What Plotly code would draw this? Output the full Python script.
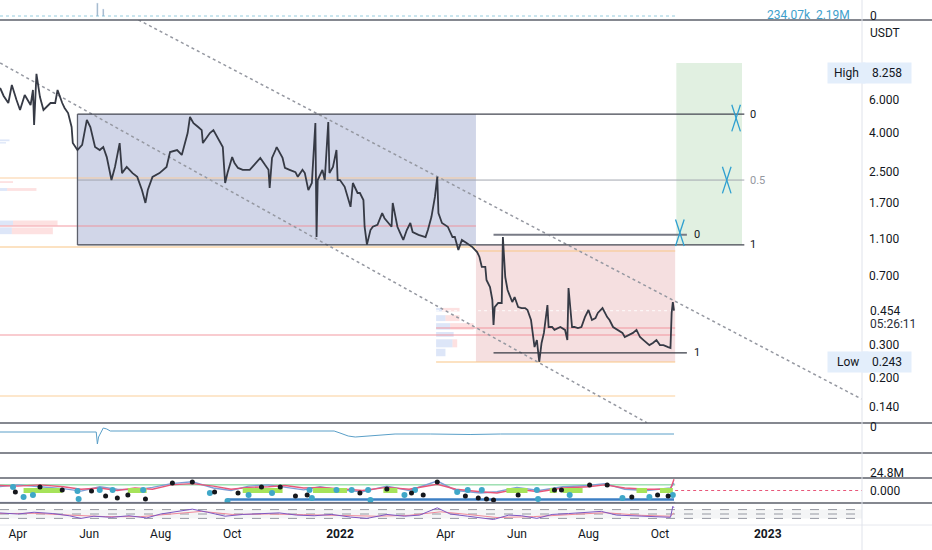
import numpy as np
import plotly.graph_objects as go

# ---------------- data ----------------
price_dates = [
 "2021-03-17","2021-03-20","2021-03-24","2021-03-27","2021-03-31","2021-04-03","2021-04-07","2021-04-12","2021-04-14","2021-04-15",
 "2021-04-17","2021-04-20","2021-04-23","2021-04-29","2021-05-03","2021-05-05","2021-05-09","2021-05-11","2021-05-14","2021-05-17",
 "2021-05-18","2021-05-22","2021-05-26","2021-05-30","2021-06-02","2021-06-06","2021-06-10","2021-06-13","2021-06-16","2021-06-20",
 "2021-06-23","2021-06-27","2021-06-29","2021-07-03","2021-07-08","2021-07-12","2021-07-16","2021-07-19","2021-07-21","2021-07-25",
 "2021-07-31","2021-08-06","2021-08-09","2021-08-15","2021-08-19","2021-08-22","2021-08-24","2021-08-26","2021-08-29","2021-09-02",
 "2021-09-05","2021-09-06","2021-09-10","2021-09-12","2021-09-15","2021-09-18","2021-09-21","2021-09-23","2021-09-25","2021-09-27",
 "2021-10-01","2021-10-03","2021-10-06","2021-10-10","2021-10-16","2021-10-20","2021-10-25","2021-10-29","2021-11-01","2021-11-02",
 "2021-11-04","2021-11-07","2021-11-08","2021-11-13","2021-11-15","2021-11-19","2021-11-24","2021-11-26","2021-11-30","2021-12-02",
 "2021-12-05","2021-12-08","2021-12-11","2021-12-12","2021-12-13","2021-12-17","2021-12-19","2021-12-22","2021-12-23","2021-12-26",
 "2021-12-29","2021-12-30","2022-01-01","2022-01-05","2022-01-08","2022-01-10","2022-01-12","2022-01-16","2022-01-18","2022-01-21",
 "2022-01-22","2022-01-24","2022-01-27","2022-01-29","2022-02-02","2022-02-06","2022-02-08","2022-02-11","2022-02-14","2022-02-15",
 "2022-02-19","2022-02-21","2022-02-24","2022-02-27","2022-03-02","2022-03-04","2022-03-09","2022-03-15","2022-03-17","2022-03-20",
 "2022-03-23","2022-03-25","2022-03-26","2022-03-29","2022-04-01","2022-04-03","2022-04-07","2022-04-09","2022-04-12","2022-04-15",
 "2022-04-19","2022-04-24","2022-04-28","2022-04-30","2022-05-02","2022-05-05","2022-05-06","2022-05-09","2022-05-11","2022-05-12",
 "2022-05-13","2022-05-16","2022-05-19","2022-05-20","2022-05-22","2022-05-24","2022-05-28","2022-05-30","2022-06-02","2022-06-05",
 "2022-06-08","2022-06-10","2022-06-13","2022-06-15","2022-06-16","2022-06-18","2022-06-20","2022-06-22","2022-06-24","2022-06-27",
 "2022-06-28","2022-07-01","2022-07-03","2022-07-08","2022-07-12","2022-07-14","2022-07-15","2022-07-18","2022-07-20","2022-07-23",
 "2022-07-26","2022-07-29","2022-08-01","2022-08-04","2022-08-07","2022-08-09","2022-08-13","2022-08-17","2022-08-19","2022-08-22",
 "2022-08-26","2022-08-30","2022-09-01","2022-09-05","2022-09-08","2022-09-11","2022-09-14","2022-09-17","2022-09-20","2022-09-22",
 "2022-09-25","2022-09-28","2022-10-01","2022-10-04","2022-10-08","2022-10-10","2022-10-11","2022-10-12","2022-10-13"]
price_values = [
 6.95,6.30,5.78,7.21,6.00,5.31,6.38,5.64,6.78,4.42,
 8.26,6.22,5.31,5.78,5.78,6.78,5.78,5.44,5.11,4.31,
 3.54,3.25,3.46,4.70,4.31,3.37,3.25,3.37,2.98,2.25,
 2.64,3.54,2.45,2.64,2.45,2.34,1.99,1.70,1.99,2.34,
 2.45,2.64,3.17,3.25,3.06,3.54,4.00,4.87,4.52,4.31,
 4.15,3.54,3.81,4.00,4.15,3.81,3.54,3.37,2.17,2.45,
 2.98,2.77,2.61,2.55,2.55,2.71,2.95,2.71,2.55,2.04,
 2.95,3.25,3.37,2.95,2.61,2.55,2.48,2.34,2.55,2.45,
 1.99,2.17,4.52,1.12,2.25,2.55,2.25,4.58,2.45,2.64,
 3.25,2.25,2.25,2.07,1.76,1.62,2.17,1.92,1.92,1.76,
 1.27,1.02,1.22,1.27,1.30,1.50,1.41,1.33,1.27,1.70,
 1.27,1.19,1.08,1.22,1.33,1.19,1.15,1.12,1.22,1.43,
 1.83,2.34,1.50,1.33,1.30,1.27,1.12,1.12,0.955,1.08,
 1.04,0.99,0.932,0.877,0.776,0.776,0.662,0.607,0.518,0.381,
 0.475,0.499,0.499,1.12,0.686,0.585,0.505,0.537,0.475,0.469,
 0.469,0.458,0.405,0.329,0.291,0.317,0.243,0.306,0.346,0.487,
 0.372,0.372,0.359,0.372,0.359,0.317,0.600,0.372,0.372,0.367,
 0.372,0.420,0.458,0.405,0.415,0.442,0.469,0.420,0.405,0.372,
 0.359,0.346,0.329,0.337,0.346,0.359,0.329,0.317,0.306,0.298,
 0.306,0.317,0.298,0.298,0.291,0.288,0.442,0.505,0.454]

price_ticks = [0.14, 0.2, 0.3, 0.7, 1.1, 1.7, 2.5, 4.0, 6.0]
price_tick_text = ["0.140", "0.200", "0.300", "0.700", "1.100", "1.700", "2.500", "4.000", "6.000"]
x_tick_dates = ["2021-04-01","2021-06-01","2021-08-01","2021-10-01","2022-01-01",
                "2022-04-01","2022-06-01","2022-08-01","2022-10-01","2023-01-01"]
x_tick_text = ["Apr","Jun","Aug","Oct","<b>2022</b>","Apr","Jun","Aug","Oct","<b>2023</b>"]

high_value, low_value, last_value = 8.258, 0.243, 0.454

# Fib retracement 1 (levels 0 / 0.5 / 1)
fib1_start, fib1_end = "2021-05-22", "2022-12-12"
fib1_levels = [5.05, 2.25, 1.016]
fib1_labels = ["0", "0.5", "1"]
# Fib retracement 2
fib2_start, fib2_end = "2022-05-12", "2022-10-24"
fib2_levels = [1.15, 0.271]
fib2_labels = ["0", "1"]

# zones
blue_zone = ("2021-05-22", "2022-04-27", 1.016, 5.05)
red_zone = ("2022-04-27", "2022-10-14", 0.242, 1.016)
green_zone = ("2022-10-15", "2022-12-10", 1.016, 9.44)

# trend lines (dotted)
trend_upper = (["2021-07-13", "2023-03-22"], [16.0, 0.154])
trend_lower = (["2021-03-17", "2022-09-20"], [9.44, 0.115])

# horizontal levels: (start, end, price, color)
h_levels = [
 ("2021-03-10", "2022-04-27", 2.31, "rgba(250,200,150,0.6)"),
 ("2021-03-10", "2022-04-27", 1.28, "rgba(240,140,150,0.6)"),
 ("2021-03-10", "2022-04-27", 0.99, "rgba(250,200,140,0.7)"),
 ("2022-04-27", "2022-10-14", 0.944, "rgba(250,200,140,0.7)"),
 ("2022-03-24", "2022-10-14", 0.367, "rgba(240,140,150,0.6)"),
 ("2021-03-10", "2022-10-14", 0.337, "rgba(240,140,150,0.6)"),
 ("2022-03-24", "2022-10-14", 0.242, "rgba(250,200,140,0.7)"),
 ("2021-03-10", "2022-10-14", 0.160, "rgba(250,200,140,0.6)"),
]

# markers (crosses)
cross_dates = ["2022-12-05", "2022-11-27", "2022-10-18"]
cross_prices = [4.81, 2.25, 1.18]

# volume profile rows: (low, high, blue width days, pink width days)
vp_left = [(3.62, 3.70, 15, 0), (3.52, 3.58, 12, 0), (2.17, 2.22, 0, 18), (1.97, 2.04, 13, 25),
           (1.29, 1.37, 18, 38), (1.16, 1.26, 17, 35), (1.02, 1.10, 0, 6)]
vp_left_start = "2021-03-10"
vp_mid = [(0.45, 0.47, 5, 15), (0.40, 0.43, 8, 12), (0.36, 0.39, 12, 20), (0.33, 0.35, 15, 0),
          (0.29, 0.32, 14, 4), (0.26, 0.285, 8, 0)]
vp_mid_start = "2022-03-24"

# volume strip
vol_dates = ["2021-06-08", "2021-06-13"]
vol_values = [81, 44]

# oscillator panel
osc_dates = ["2021-03-15","2021-06-07","2021-06-08","2021-06-09","2021-06-13","2021-06-16","2021-06-19","2021-12-27",
             "2022-01-01","2022-01-08","2022-01-14","2022-01-22","2022-02-04","2022-02-17","2022-03-19","2022-04-22",
             "2022-05-18","2022-06-21","2022-08-12","2022-10-13"]
osc_values = [-2,-2,-8,-4.5,0,-0.5,-1.5,-1.5,-2.5,-4,-4.5,-4.2,-3.5,-3,-3,-3.25,-3,-3,-2.75,-3]

# wave indicator panel
black_dot_dates = ["2021-03-30","2021-04-20","2021-05-09","2021-06-03","2021-06-15","2021-06-25","2021-07-04","2021-07-19",
 "2021-08-11","2021-08-28","2021-09-16","2021-10-06","2021-10-26","2021-11-11","2021-11-24","2021-12-04","2022-01-18",
 "2022-02-10","2022-03-03","2022-03-13","2022-03-25","2022-04-18","2022-04-29","2022-05-06","2022-05-12","2022-06-02",
 "2022-07-03","2022-07-09","2022-08-02","2022-08-17","2022-09-07","2022-09-29","2022-10-08"]
black_dot_values = [-0.12,0.28,0.04,-0.04,-0.44,-0.6,-0.36,-0.68,0.6,0.68,-0.12,-0.2,0.28,0.28,-0.44,-0.36,-0.2,
 0.12,-0.2,-0.36,0.68,-0.44,-0.6,-0.68,-0.76,-0.36,0.04,0.04,0.44,0.44,-0.52,-0.36,-0.44]
teal_dot_dates = ["2021-03-28","2021-04-06","2021-04-14","2021-05-22","2021-05-23","2021-06-10","2021-06-21","2021-07-17",
 "2021-09-12","2021-09-27","2021-10-15","2021-11-04","2021-12-06","2021-12-08","2021-12-29","2022-01-11","2022-01-25",
 "2022-01-27","2022-02-25","2022-03-06","2022-04-11","2022-04-20","2022-05-02","2022-06-18","2022-06-19","2022-07-16",
 "2022-08-30","2022-09-22","2022-10-12"]
teal_dot_values = [0.28,-0.52,-0.36,-0.04,-0.68,0.04,0.04,0.04,-0.2,-0.84,-0.36,-0.2,0.04,-0.6,0.04,0.04,0.04,-0.76,
 -0.36,0.04,-0.12,0.04,0.04,0.04,-0.68,-0.36,-0.6,-0.52,-0.36]
lime_segments = [("2021-04-06","2021-05-09"),("2021-07-04","2021-07-20"),("2021-10-10","2021-11-13"),
 ("2021-12-09","2022-01-07"),("2022-02-07","2022-02-19"),("2022-05-23","2022-06-10"),("2022-06-29","2022-07-05"),
 ("2022-07-10","2022-07-27"),("2022-09-11","2022-09-20"),("2022-10-01","2022-10-12")]
wave_dates = ["2021-03-16","2021-04-01","2021-04-20","2021-05-10","2021-05-25","2021-06-10","2021-06-25","2021-07-10",
 "2021-07-25","2021-08-10","2021-08-28","2021-09-15","2021-09-30","2021-10-15","2021-11-01","2021-11-15","2021-12-01",
 "2021-12-15","2022-01-01","2022-01-20","2022-02-10","2022-03-01","2022-03-25","2022-04-10","2022-05-01","2022-05-15",
 "2022-06-01","2022-06-20","2022-07-10","2022-08-01","2022-08-15","2022-09-01","2022-09-20","2022-10-10","2022-10-13"]
wave_pink = [0.4,0.35,0.45,0.3,0.1,0.2,0.0,0.2,0.1,0.45,0.55,0.35,0.1,0.25,0.3,0.4,0.2,0.25,0.15,0.0,0.25,0.1,
 0.5,0.1,-0.1,-0.2,0.1,-0.1,0.2,0.3,0.45,0.2,0.1,0.1,0.9]
wave_blue = [0.3,0.45,0.3,0.15,-0.05,0.3,0.1,0.05,0.25,0.55,0.7,0.2,0.0,0.35,0.45,0.25,0.05,0.3,0.05,-0.1,0.35,
 0.0,0.75,0.0,-0.2,-0.1,0.25,0.0,0.3,0.4,0.55,0.1,0.0,0.2,0.6]

# RSI panel
rsi_dates = ["2021-03-16","2021-04-01","2021-04-15","2021-05-01","2021-05-15","2021-05-25","2021-06-05","2021-06-20",
 "2021-07-05","2021-07-20","2021-08-01","2021-08-15","2021-08-28","2021-09-10","2021-09-25","2021-10-10","2021-10-25",
 "2021-11-10","2021-11-25","2021-12-10","2021-12-25","2022-01-10","2022-01-24","2022-02-10","2022-02-25","2022-03-10",
 "2022-03-25","2022-04-05","2022-04-20","2022-05-05","2022-05-12","2022-05-25","2022-06-05","2022-06-18","2022-07-01",
 "2022-07-15","2022-08-01","2022-08-12","2022-08-25","2022-09-10","2022-09-25","2022-10-10","2022-10-12","2022-10-13"]
rsi_values = [55,50,58,52,42,30,40,35,42,32,50,62,72,58,40,48,52,55,45,42,48,36,30,48,40,45,78,50,40,32,25,45,42,
 30,48,52,58,62,45,42,38,35,85,78]
rsi_ma_dates = ["2021-03-16","2021-04-15","2021-05-15","2021-06-15","2021-07-15","2021-08-15","2021-09-05","2021-10-01",
 "2021-11-01","2021-12-01","2022-01-01","2022-02-01","2022-03-01","2022-03-28","2022-04-20","2022-05-15","2022-06-15",
 "2022-07-15","2022-08-15","2022-09-15","2022-10-10","2022-10-13"]
rsi_ma_values = [52,53,45,38,38,52,62,48,50,47,42,40,44,60,48,34,38,47,56,44,40,55]

# ---------------- figure ----------------
W, H = 932, 550
XR = ["2021-03-16 21:30", "2023-03-22 10:00"]
XD = 862 / W
def py(p):
    return 1 - p / H

fig = go.Figure()

def rect(x0, x1, y0, y1, color, yaxis="y"):
    fig.add_trace(go.Scatter(x=[x0, x1, x1, x0, x0], y=[y0, y0, y1, y1, y0], mode="lines",
                             fill="toself", fillcolor=color, line=dict(width=0), yaxis=yaxis,
                             hoverinfo="skip"))

def hline(x0, x1, y, color, width=1, dash="solid", yaxis="y"):
    fig.add_trace(go.Scatter(x=[x0, x1], y=[y, y], mode="lines",
                             line=dict(color=color, width=width, dash=dash), yaxis=yaxis, hoverinfo="skip"))

# zones
rect(blue_zone[0], blue_zone[1], blue_zone[2], blue_zone[3], "#d1d6e8")
rect(red_zone[0], red_zone[1], red_zone[2], red_zone[3], "#f5dfe0")
rect(green_zone[0], green_zone[1], green_zone[2], green_zone[3], "#e1f0e1")

# volume profiles
base_l = np.datetime64(vp_left_start)
for lo, hi, wb, wp in vp_left:
    if wb:
        rect(str(base_l), str(base_l + np.timedelta64(wb, "D")), lo, hi, "rgba(180,200,240,0.45)")
    if wp:
        rect(str(base_l + np.timedelta64(wb, "D")), str(base_l + np.timedelta64(wb + wp, "D")), lo, hi, "rgba(250,180,180,0.4)")
base_m = np.datetime64(vp_mid_start)
for lo, hi, wb, wp in vp_mid:
    if wb:
        rect(str(base_m), str(base_m + np.timedelta64(wb, "D")), lo, hi, "rgba(180,200,240,0.45)")
    if wp:
        rect(str(base_m + np.timedelta64(wb, "D")), str(base_m + np.timedelta64(wb + wp, "D")), lo, hi, "rgba(250,180,180,0.4)")

# horizontal levels
for s, e, p, c in h_levels:
    hline(s, e, p, c, width=1.5)
hline("2022-03-24", "2022-10-14", last_value, "rgba(255,255,255,0.9)", width=1, dash="dot")

# trend lines
for tx, ty in (trend_upper, trend_lower):
    fig.add_trace(go.Scatter(x=tx, y=ty, mode="lines", line=dict(color="#9598a1", width=1.5, dash="dot"),
                             hoverinfo="skip"))

# fib 1
hline(fib1_start, fib1_end, fib1_levels[0], "#434651", width=1.3)
hline(fib1_start, fib1_end, fib1_levels[1], "#a3a6af", width=1)
hline(fib1_start, fib1_end, fib1_levels[2], "#434651", width=1.3)
fig.add_trace(go.Scatter(x=[fib1_start, fib1_start], y=[fib1_levels[0], fib1_levels[2]], mode="lines",
                         line=dict(color="#5d606b", width=1.3), hoverinfo="skip"))
# fib 2
hline(fib2_start, fib2_end, fib2_levels[0], "#787b86", width=2)
hline(fib2_start, fib2_end, fib2_levels[1], "#363a45", width=1.3)

# price
fig.add_trace(go.Scatter(x=price_dates, y=price_values, mode="lines",
                         line=dict(color="#363a45", width=1.8), hoverinfo="skip"))

# crosses (two tilted strokes each)
for ang in (18, -18):
    fig.add_trace(go.Scatter(x=cross_dates, y=cross_prices, mode="markers",
                             marker=dict(symbol="line-ns", size=20, angle=ang,
                                         line=dict(width=1.3, color="#2e9fd0")),
                             hoverinfo="skip"))

# volume strip
fig.add_trace(go.Bar(x=vol_dates, y=vol_values, yaxis="y2", marker_color="#8fa9c0", width=86400000 * 1.2))
hline(XR[0], "2022-10-14", 0, "rgba(80,170,200,0.6)", width=1, dash="dot", yaxis="y2")

# oscillator
fig.add_trace(go.Scatter(x=osc_dates, y=osc_values, yaxis="y3", mode="lines",
                         line=dict(color="#5a9fc8", width=1), hoverinfo="skip"))

# wave indicator
hline(XR[0], "2022-10-14", 0.45, "#6ccf8a", width=1, yaxis="y5")
hline("2021-09-27", "2022-10-13", -0.72, "#3d7fc4", width=2.5, yaxis="y5")
hline(XR[0], "2022-10-14", -0.95, "#9fa3c8", width=1, yaxis="y5")
fig.add_trace(go.Scatter(x=wave_dates, y=wave_blue, yaxis="y5", mode="lines",
                         line=dict(color="#7f9ed6", width=1.4), hoverinfo="skip"))
fig.add_trace(go.Scatter(x=wave_dates, y=wave_pink, yaxis="y5", mode="lines",
                         line=dict(color="#e8577a", width=1.4), hoverinfo="skip"))
for s, e in lime_segments:
    hline(s, e, 0, "#a6e35a", width=5, yaxis="y5")
hline("2022-10-14", XR[1], 0, "#e8577a", width=1, dash="dot", yaxis="y5")
fig.add_trace(go.Scatter(x=teal_dot_dates, y=teal_dot_values, yaxis="y5", mode="markers",
                         marker=dict(color="#3fa7c8", size=6), hoverinfo="skip"))
fig.add_trace(go.Scatter(x=black_dot_dates, y=black_dot_values, yaxis="y5", mode="markers",
                         marker=dict(color="#15171c", size=5), hoverinfo="skip"))

# RSI
rect(XR[0], XR[1], 30, 70, "rgba(120,123,134,0.08)", yaxis="y6")
for lv in (30, 50, 70):
    hline(XR[0], XR[1], lv, "#9598a1", width=1, dash="dash", yaxis="y6")
fig.add_trace(go.Scatter(x=rsi_ma_dates, y=rsi_ma_values, yaxis="y6", mode="lines",
                         line=dict(color="#f08a9b", width=1), hoverinfo="skip"))
fig.add_trace(go.Scatter(x=rsi_dates, y=rsi_values, yaxis="y6", mode="lines",
                         line=dict(color="#7e57c2", width=1), hoverinfo="skip"))

# ---------------- layout ----------------
font = "Roboto, Arial, sans-serif"
ax_common = dict(showgrid=False, zeroline=False, showline=False, anchor="x")
fig.update_layout(
    width=W, height=H, margin=dict(l=0, r=0, t=0, b=0),
    paper_bgcolor="white", plot_bgcolor="white", showlegend=False,
    font=dict(family=font, size=12, color="#131722"),
    xaxis=dict(type="date", range=XR, domain=[0, XD], anchor="y6", showgrid=False, zeroline=False,
               tickvals=x_tick_dates, ticktext=x_tick_text, ticks="", tickfont=dict(size=12, color="#131722"),
               showline=False),
    yaxis=dict(type="log", range=[-0.9401, 1.2035], domain=[py(423), py(20)], side="right",
               tickvals=price_ticks, ticktext=price_tick_text, ticks="", ticklabelstandoff=6,
               tickfont=dict(size=12, color="#131722"), **ax_common),
    yaxis2=dict(range=[-25, 100], domain=[py(20), 1], visible=False, **ax_common),
    yaxis3=dict(range=[-12.5, 2.5], domain=[py(453), py(423)], visible=False, **ax_common),
    yaxis4=dict(range=[0, 1], domain=[py(478), py(453)], visible=False, **ax_common),
    yaxis5=dict(range=[-1, 1], domain=[py(503), py(478)], visible=False, **ax_common),
    yaxis6=dict(range=[0, 100], domain=[py(525), py(503)], visible=False, **ax_common),
)

shapes = []
for yy, col, w in [(20, "#5d606b", 1.5), (423, "#5d606b", 1.5), (453, "#5d606b", 1.5),
                   (478, "#5d606b", 1.5), (503, "#5d606b", 1.5), (525, "#e6e8ee", 1)]:
    shapes.append(dict(type="line", xref="paper", yref="paper", x0=0, x1=1, y0=py(yy), y1=py(yy),
                       line=dict(color=col, width=w)))
shapes.append(dict(type="line", xref="paper", yref="paper", x0=XD, x1=XD, y0=0, y1=1,
                   line=dict(color="#e0e3eb", width=1)))
fig.update_layout(shapes=shapes)

ann = []
def pann(x, y, text, color="#131722", size=12, xanchor="left", bg=None, pad=1):
    d = dict(xref="paper", yref="paper", x=x / W, y=py(y), text=text, showarrow=False,
             xanchor=xanchor, yanchor="middle", font=dict(size=size, color=color, family=font),
             borderpad=pad)
    if bg:
        d["bgcolor"] = bg
    ann.append(d)

for lvl, lab in zip(fib1_levels, fib1_labels):
    ann.append(dict(xref="x", yref="y", x="2022-12-15", y=np.log10(lvl), text=lab, showarrow=False,
                    xanchor="left", font=dict(size=11, color="#9598a1" if lab == "0.5" else "#131722")))
for lvl, lab in zip(fib2_levels, fib2_labels):
    ann.append(dict(xref="x", yref="y", x="2022-10-28", y=np.log10(lvl), text=lab, showarrow=False,
                    xanchor="left", font=dict(size=11, color="#131722")))

pann(868, 33, "USDT")
pann(827, 73, " High ", bg="#e3eefb", pad=3)
pann(862, 73, "  " + f"{high_value:.3f}" + "  ", bg="#e3eefb", pad=3)
pann(827, 362, "  Low  ", bg="#e3eefb", pad=3)
pann(862, 362, "  " + f"{low_value:.3f}" + "  ", bg="#e3eefb", pad=3)
pann(868, 311, f"{last_value:.3f}")
pann(868, 324, "05:26:11", color="#2a2e39")
pann(868, 16, "0")
pann(852, 15, "234.07k  2.19M", color="#3fa0cc", xanchor="right")
pann(868, 427, "0")
pann(868, 473, "24.8M")
pann(868, 491, "0.000")
fig.update_layout(annotations=ann)

fig.write_html("out.html", config={"displayModeBar": False},
               post_script="document.body.style.margin='0';document.body.style.overflow='hidden';")
